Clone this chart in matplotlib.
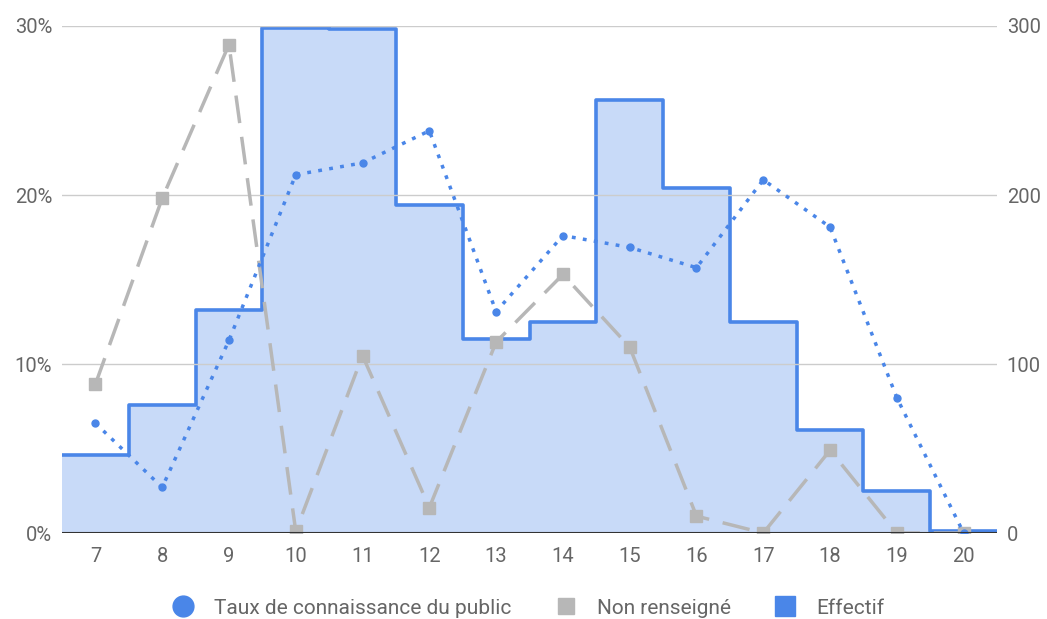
import matplotlib.pyplot as plt
from matplotlib.lines import Line2D
import numpy as np

ages = [7, 8, 9, 10, 11, 12, 13, 14, 15, 16, 17, 18, 19, 20]
effectif = [46, 76, 132, 299, 298, 194, 115, 125, 256, 204, 125, 61, 25, 1]
taux = [6.5, 2.7, 11.4, 21.2, 21.9, 23.8, 13.1, 17.6, 16.9, 15.7, 20.9, 18.1, 8.0, 0.0]
non_renseigne = [8.8, 19.8, 28.9, 0.1, 10.5, 1.5, 11.3, 15.3, 11.0, 1.0, 0.0, 4.9, 0.0, 0.0]

blue = '#4a86e8'
gray = '#b7b7b7'
text_col = '#666666'

plt.rcParams['font.family'] = ['Roboto', 'DejaVu Sans']

fig = plt.figure(figsize=(10.47, 6.19), dpi=100)
ax = fig.add_axes([0.0592, 0.1389, 0.8931, 0.8191])
ax2 = ax.twinx()

x = np.array(ages)
edges = np.append(x - 0.5, x[-1] + 0.5)

# Effectif (axe de droite), en escalier
ax2.stairs(effectif, edges, fill=True, color=blue, alpha=0.3, linewidth=0)
ax2.stairs(effectif, edges, baseline=None, color=blue, linewidth=2.6,
           joinstyle='round')
ax2.set_ylim(0, 300)
ax2.set_yticks([0, 100, 200, 300])

# Pourcentages (axe de gauche)
ax.set_zorder(ax2.get_zorder() + 1)
ax.patch.set_visible(False)
ax.plot(x, non_renseigne, color=gray, linewidth=2.5, dashes=(8, 4),
        marker='s', markersize=8, zorder=3)
ax.plot(x, taux, color=blue, linewidth=2.5, linestyle=(0, (1.1, 2.1)),
        dash_capstyle='butt', marker='o', markersize=5, zorder=4)
ax.set_ylim(0, 30)
ax.set_yticks([0, 10, 20, 30])
ax.set_yticklabels(['0%', '10%', '20%', '30%'])
ax.set_xlim(edges[0], edges[-1])
ax.set_xticks(ages)

ax.grid(axis='y', color='#cccccc', linewidth=1, zorder=0)
ax.axhline(0, color='#333333', linewidth=1.5, zorder=5)

for a in (ax, ax2):
    for s in a.spines.values():
        s.set_visible(False)
    a.tick_params(length=0, labelsize=14.5, labelcolor=text_col)
ax.tick_params(axis='x', pad=10)
ax.tick_params(axis='y', pad=7)
ax2.tick_params(axis='y', pad=7)

handles = [
    Line2D([], [], linestyle='none', marker='o', markersize=15, color=blue),
    Line2D([], [], linestyle='none', marker='s', markersize=12, color=gray),
    Line2D([], [], linestyle='none', marker='s', markersize=15, color=blue),
]
labels = ['Taux de connaissance du public', 'Non renseigné', 'Effectif']
fig.legend(handles, labels, loc='lower center', bbox_to_anchor=(0.5, -0.028),
           ncol=3, frameon=False, fontsize=15, labelcolor=text_col,
           handletextpad=0.5, columnspacing=1.6)

fig.savefig('out.png', dpi=100)
